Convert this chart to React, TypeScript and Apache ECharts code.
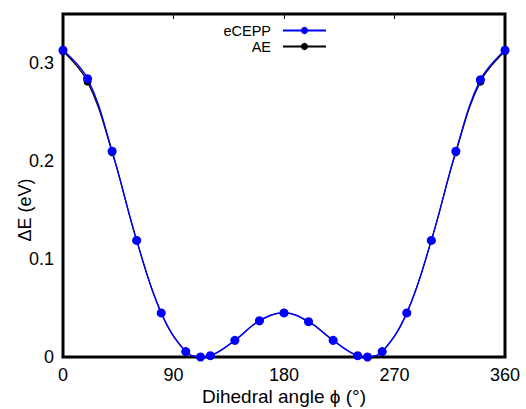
import React, { useEffect, useRef } from "react";
import * as echarts from "echarts";

const angles = [0, 20, 40, 60, 80, 100, 112, 120, 140, 160, 180, 200, 220, 240, 248, 260, 280, 300, 320, 340, 360];
const ecepp = [0.313, 0.284, 0.21, 0.119, 0.045, 0.0055, 0.0, 0.0013, 0.017, 0.037, 0.045, 0.036, 0.017, 0.0013, 0.0, 0.0055, 0.045, 0.119, 0.21, 0.283, 0.313];
const ae = [0.312, 0.281, 0.209, 0.119, 0.045, 0.0055, 0.0, 0.0013, 0.017, 0.037, 0.045, 0.036, 0.017, 0.0013, 0.0, 0.0055, 0.045, 0.119, 0.209, 0.281, 0.312];
const xTicks = [0, 90, 180, 270, 360];
const yTicks = [0, 0.1, 0.2, 0.3];

const FONT = "Liberation Sans, Arial, sans-serif";

export default function App() {
  const ref = useRef<HTMLDivElement>(null);
  useEffect(() => {
    if (!ref.current) return;
    const chart = echarts.init(ref.current, undefined, { renderer: "svg" });
    chart.setOption({
      animation: false,
      textStyle: { fontFamily: FONT, color: "#000" },
      grid: {
        left: 63,
        right: 21,
        top: 14,
        bottom: 52,
        outerBoundsMode: "none",
        containLabel: false,
        show: true,
        borderColor: "#000",
        borderWidth: 3,
        backgroundColor: "transparent",
      },
      graphic: [
        {
          type: "text",
          x: 25,
          y: 210,
          rotation: Math.PI / 2,
          style: {
            text: "ΔE (eV)",
            fontFamily: FONT,
            fontSize: 18,
            fill: "#000",
            textAlign: "center",
            textVerticalAlign: "middle",
          },
        },
      ],
      legend: {
        orient: "vertical",
        right: 194,
        top: 18,
        align: "right",
        itemWidth: 43,
        itemHeight: 9,
        itemGap: 1,
        formatter: (name: string) => `{t|${name}}`,
        textStyle: {
          fontFamily: FONT,
          fontSize: 14,
          color: "#000",
          rich: { t: { fontFamily: FONT, fontSize: 14.5, lineHeight: 14, color: "#000", padding: [0, 7, 0, 0] } },
        },
        data: ["eCEPP", "AE"],
      },
      xAxis: [
        {
          type: "value",
          min: 0,
          max: 360,
          interval: 90,
          name: "Dihedral angle ϕ (°)",
          nameLocation: "middle",
          nameGap: 30,
          nameMoveOverlap: false,
          nameTextStyle: { fontFamily: FONT, fontSize: 19, color: "#000" },
          axisLine: { show: false },
          axisTick: { show: false },
          splitLine: { show: false },
          axisLabel: {
            fontFamily: FONT,
            fontSize: 18,
            color: "#000",
            margin: 9,
            formatter: (v: number) => (xTicks.includes(v) ? String(v) : ""),
          },
        },
        {
          type: "value",
          position: "top",
          min: 0,
          max: 360,
          interval: 90,
          axisLine: { show: false },
          axisTick: { show: true, inside: true, length: 5, lineStyle: { color: "#000", width: 1 } },
          axisLabel: { show: false },
          splitLine: { show: false },
        },
      ],
      yAxis: {
        type: "value",
        min: 0,
        max: 0.35,
        interval: 0.1,
        axisLine: { show: false },
        axisTick: { show: false },
        splitLine: { show: false },
        axisLabel: {
          fontFamily: FONT,
          fontSize: 18,
          color: "#000",
          margin: 9,
          showMaxLabel: false,
          formatter: (v: number) => {
            const r = Math.round(v * 10) / 10;
            return yTicks.some((t) => Math.abs(t - v) < 1e-6) ? String(r) : "";
          },
        },
      },
      series: [
        {
          name: "AE",
          type: "line",
          xAxisIndex: 0,
          data: angles.map((a, i) => [a, ae[i]]),
          smooth: 0.4,
          symbol: "circle",
          symbolSize: 8,
          itemStyle: { color: "#000" },
          lineStyle: { color: "#000", width: 1.2 },
          z: 2,
        },
        {
          name: "eCEPP",
          type: "line",
          xAxisIndex: 0,
          data: angles.map((a, i) => [a, ecepp[i]]),
          smooth: 0.4,
          symbol: "circle",
          symbolSize: 9,
          itemStyle: { color: "#0000ff" },
          lineStyle: { color: "#0000ff", width: 1.4 },
          z: 3,
        },
      ],
    });
    return () => chart.dispose();
  }, []);
  return <div ref={ref} style={{ width: 526, height: 409, position: "absolute", left: 0, top: 0 }} />;
}
